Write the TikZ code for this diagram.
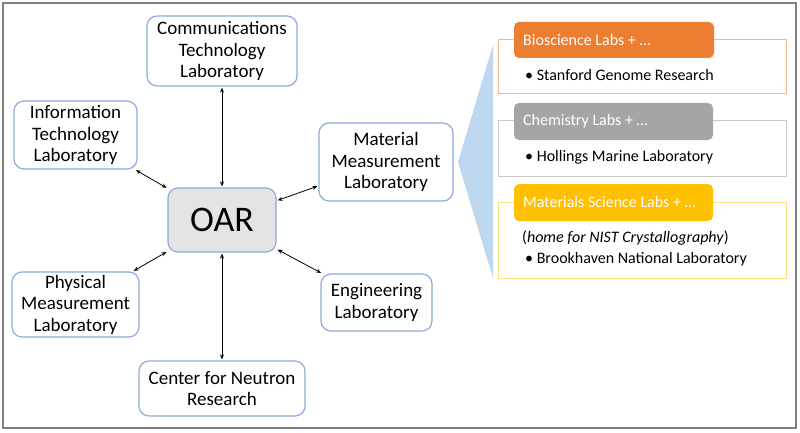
\documentclass[tikz,border=0pt]{standalone}
\usepackage{fontspec}
\setmainfont{Carlito}
\usetikzlibrary{arrows.meta}
\definecolor{nodeblue}{HTML}{8FAADC}
\definecolor{oargray}{HTML}{E4E4E4}
\definecolor{framegray}{HTML}{7F7F7F}
\definecolor{wedgeblue}{HTML}{BDD7EE}
\definecolor{bioorange}{HTML}{ED7D31}
\definecolor{biooutline}{HTML}{F6B68C}
\definecolor{chemgray}{HTML}{A5A5A5}
\definecolor{chemoutline}{HTML}{C9C9C9}
\definecolor{matyellow}{HTML}{FFC000}
\definecolor{matoutline}{HTML}{FFDF7F}
\tikzset{
  labbox/.style={draw=nodeblue, line width=1.2pt, rounded corners=10pt, fill=white,
    align=center, inner sep=0pt, font=\fontsize{19}{21.5}\selectfont},
  oarbox/.style={labbox, fill=oargray, font=\fontsize{36}{40}\selectfont},
  link/.style={{Stealth[length=5pt,width=4pt]}-{Stealth[length=5pt,width=4pt]}, line width=0.8pt, shorten <=1pt, shorten >=1pt},
  header/.style={rounded corners=5pt, inner sep=0pt, text=white, anchor=center,
    font=\fontsize{16}{19}\selectfont},
  outline/.style={line width=1pt},
  item/.style={anchor=west, inner sep=0pt, font=\fontsize{16}{19}\selectfont},
}
\begin{document}
\begin{tikzpicture}[x=1pt,y=-1pt]
\useasboundingbox (0,0) rectangle (800,433);
\draw[framegray, line width=1.5pt] (3,3) rectangle (796,428);

% left hub
\node[oarbox, minimum width=108pt, minimum height=64pt] (oar) at (222,220) {OAR};
\node[labbox, minimum width=150pt, minimum height=70pt] (comm) at (222,51) {Communications\\Technology\\Laboratory};
\node[labbox, minimum width=123pt, minimum height=68pt] (info) at (75.5,135) {Information\\Technology\\Laboratory};
\node[labbox, minimum width=134pt, minimum height=78pt] (mat) at (386,162) {Material\\Measurement\\Laboratory};
\node[labbox, minimum width=127pt, minimum height=65pt] (phys) at (75.5,304.5) {Physical\\Measurement\\Laboratory};
\node[labbox, minimum width=111pt, minimum height=57pt] (eng) at (376.5,302.5) {Engineering\\Laboratory};
\node[labbox, minimum width=166pt, minimum height=55pt] (cnr) at (222,388.5) {Center for Neutron\\Research};

\draw[link] (comm) -- (oar);
\draw[link] (info) -- (oar);
\draw[link] (mat) -- (oar);
\draw[link] (phys) -- (oar);
\draw[link] (eng) -- (oar);
\draw[link] (cnr) -- (oar);

% wedge
\fill[wedgeblue] (458,162) -- (493,45) -- (493,278) -- cycle;

% Bioscience
\draw[biooutline, outline] (498,40) rectangle (786,94);
\node[header, fill=bioorange, minimum width=200pt, minimum height=36pt] (bio) at (614,40) {};
\node[header, anchor=west] (biot) at (523,40) {Bioscience Labs + \dots};
\node[item] (bioi) at (525,75) {• Stanford Genome Research};

% Chemistry
\draw[chemoutline, outline] (498,121) rectangle (786,176);
\node[header, fill=chemgray, minimum width=199pt, minimum height=37pt] (chem) at (613.5,121.5) {};
\node[header, anchor=west] (chemt) at (523,121.5) {Chemistry Labs + \dots};
\node[item] (chemi) at (525,157) {• Hollings Marine Laboratory};

% Materials Science
\draw[matoutline, outline] (498,202) rectangle (786,278);
\node[header, fill=matyellow, minimum width=199pt, minimum height=37pt] (ms) at (613.5,202.5) {};
\node[header, anchor=west] (mst) at (523,202.5) {Materials Science Labs + \dots};
\node[item] (msn) at (522,238) {(\textit{home for NIST Crystallography})};
\node[item] (msi) at (525,259) {• Brookhaven National Laboratory};
\end{tikzpicture}
\end{document}
